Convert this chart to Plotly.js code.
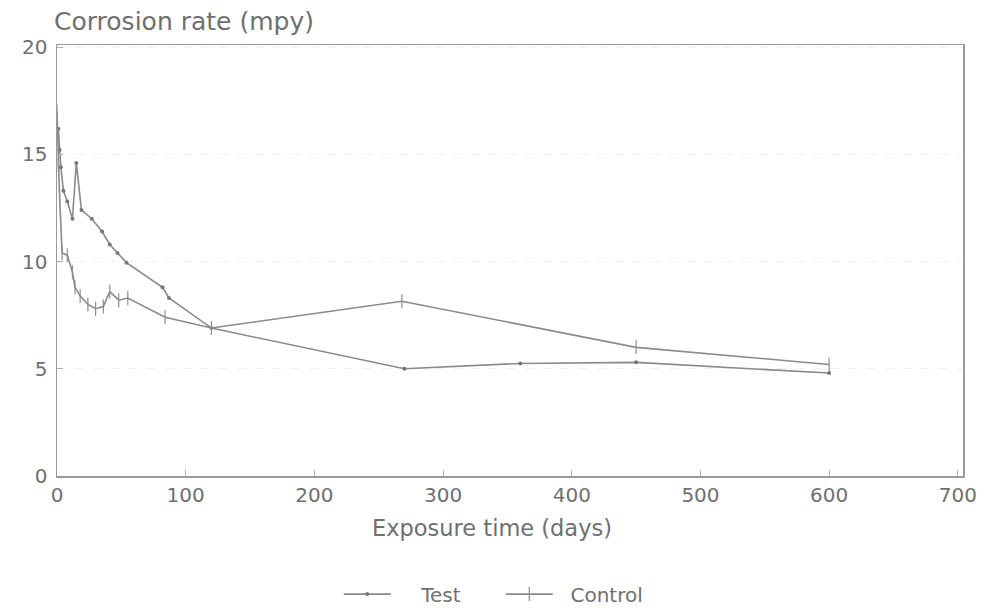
<!DOCTYPE html>
<html>
<head>
<meta charset="utf-8">
<script src="https://cdn.plot.ly/plotly-3.0.1.min.js"></script>
<style>
  html, body { margin: 0; padding: 0; background: #ffffff; }
  #chart { width: 989px; height: 611px; }
</style>
</head>
<body>
<div id="chart"></div>
<script>
// Corrosion rate (mpy) against exposure time (days)
const testDays = [1, 2, 3, 5, 8, 12, 15, 19, 27, 35, 41, 47, 54, 82, 87, 120, 270, 360, 450, 600];
const testRate = [16.2, 15.2, 14.4, 13.3, 12.8, 12.0, 14.6, 12.4, 12.0, 11.4, 10.8, 10.4, 9.95, 8.8, 8.3, 6.9, 5.0, 5.25, 5.3, 4.8];

const controlDays = [0, 1, 2, 4, 8, 12, 14, 18, 24, 30, 36, 41, 48, 55, 84, 120, 268, 450, 600];
const controlRate = [17.0, 14.5, 13.0, 10.4, 10.3, 9.5, 8.8, 8.4, 8.0, 7.8, 7.9, 8.6, 8.2, 8.3, 7.4, 6.9, 8.15, 6.0, 5.2];

const xTicks = [0, 100, 200, 300, 400, 500, 600, 700];
const yTicks = [0, 5, 10, 15, 20];

const ink = '#8a8a8a';
const textInk = '#6f6f6f';
const font = 'DejaVu Sans, Arial, sans-serif';

const traces = [
  {
    x: testDays, y: testRate, name: '\u00a0\u00a0\u00a0\u00a0Test', type: 'scatter', mode: 'lines+markers',
    line: { color: ink, width: 1.6 },
    marker: { symbol: 'circle', size: 4, color: '#777777' }
  },
  {
    x: controlDays, y: controlRate, name: '\u00a0\u00a0Control', type: 'scatter', mode: 'lines+markers',
    line: { color: ink, width: 1.6 },
    marker: { symbol: 'line-ns', size: 10, color: ink, line: { color: '#8f8f8f', width: 1.2 } }
  }
];

const axisCommon = {
  showline: true, mirror: true, linecolor: '#9a9a9a', linewidth: 1.5,
  ticks: 'inside', ticklen: 6, tickcolor: '#b0b0b0', tickwidth: 1,
  zeroline: false,
  tickfont: { family: font, size: 20, color: textInk }
};

const layout = {
  width: 989, height: 611,
  margin: { l: 57, r: 26, t: 45, b: 135, autoexpand: false },
  paper_bgcolor: '#ffffff', plot_bgcolor: '#ffffff',
  showlegend: true,
  xaxis: Object.assign({}, axisCommon, {
    range: [0, 704], tickvals: xTicks, ticktext: xTicks.map(String),
    showgrid: false
  }),
  yaxis: Object.assign({}, axisCommon, {
    range: [0, 20.1], tickvals: yTicks, ticktext: yTicks.map(String),
    showgrid: true, gridcolor: '#f1f1f1', griddash: 'dash', gridwidth: 1,
    ticklabelstandoff: 4
  }),
  annotations: [
    {
      text: 'Corrosion rate (mpy)', xref: 'paper', yref: 'paper',
      x: -0.006, y: 1.0, xanchor: 'left', yanchor: 'bottom', yshift: 7,
      showarrow: false, font: { family: font, size: 25, color: textInk }
    },
    {
      text: 'Exposure time (days)', xref: 'paper', yref: 'paper',
      x: 0.48, y: -0.121, xanchor: 'center', yanchor: 'middle',
      showarrow: false, font: { family: font, size: 22.5, color: textInk }
    }
  ],
  legend: {
    orientation: 'h', x: 0.311, xanchor: 'left', y: -0.274, yanchor: 'middle',
    font: { family: font, size: 20, color: textInk },
    itemwidth: 47,
    entrywidth: 100, entrywidthmode: 'pixels',
    bgcolor: 'rgba(0,0,0,0)'
  }
};

Plotly.newPlot('chart', traces, layout, { displayModeBar: false, staticPlot: true });
</script>
</body>
</html>
